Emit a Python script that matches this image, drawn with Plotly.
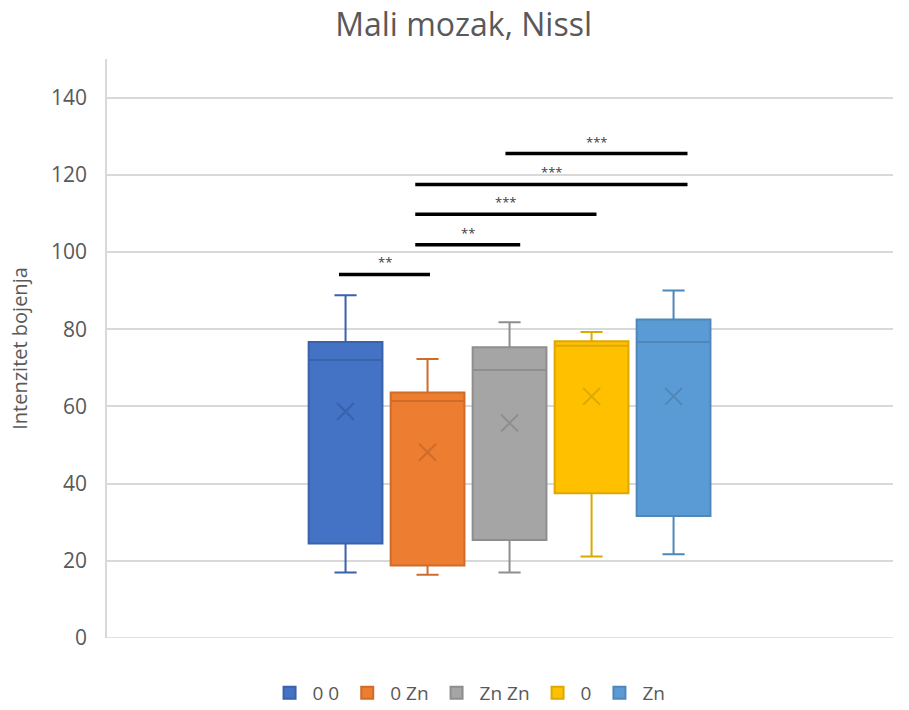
import plotly.graph_objects as go

groups = ["0 0", "0 Zn", "Zn Zn", "0", "Zn"]
positions = [1, 2, 3, 4, 5]
q1 = [24.5, 18.8, 25.4, 37.5, 31.6]
median = [72.0, 61.4, 69.4, 75.7, 76.7]
q3 = [76.7, 63.6, 75.3, 76.9, 82.5]
lower = [17.0, 16.4, 17.0, 21.1, 21.7]
upper = [88.8, 72.3, 81.8, 79.3, 90.0]
means = [58.7, 48.1, 55.7, 62.6, 62.6]

fills = ["#4472C4", "#ED7D31", "#A5A5A5", "#FFC000", "#5B9BD5"]
lines = ["#3A62AB", "#CF6C29", "#8E8E8E", "#DDA800", "#4F87BA"]

# significance brackets
sig_x0 = [2.95, 1.85, 1.85, 1.85, 0.92]
sig_x1 = [5.17, 5.17, 4.06, 3.13, 2.03]
sig_y = [125.5, 117.5, 109.8, 101.9, 94.2]
sig_labels = ["***", "***", "***", "**", "**"]

fig = go.Figure()
for i, g in enumerate(groups):
    fig.add_trace(go.Box(
        x=[positions[i]], q1=[q1[i]], median=[median[i]], q3=[q3[i]],
        lowerfence=[lower[i]], upperfence=[upper[i]],
        name=g, fillcolor=fills[i], line=dict(color=lines[i], width=2),
        width=0.9, whiskerwidth=0.3, boxpoints=False, showlegend=True,
        hoverinfo="skip",
    ))
    fig.add_trace(go.Scatter(
        x=[positions[i]], y=[means[i]], mode="markers",
        marker=dict(symbol="x-thin-open", size=17, color=lines[i],
                    line=dict(color=lines[i], width=2)),
        showlegend=False, hoverinfo="skip",
    ))

for x0, x1, y, lab in zip(sig_x0, sig_x1, sig_y, sig_labels):
    fig.add_shape(type="line", x0=x0, x1=x1, y0=y, y1=y, xref="x", yref="y",
                  line=dict(color="black", width=3.5))
    fig.add_annotation(x=(x0 + x1) / 2, y=y, text=lab, showarrow=False,
                       yshift=12, font=dict(size=13, color="#404040", family="Open Sans"))

fig.update_layout(
    width=909, height=710,
    margin=dict(l=107, r=16, t=59, b=72, autoexpand=False),
    paper_bgcolor="white", plot_bgcolor="white",
    title=dict(text="Mali mozak, Nissl", x=0.51, xanchor="center", y=0.965, yanchor="middle",
               font=dict(family="Open Sans", size=32, color="#595959")),
    font=dict(family="Open Sans", color="#595959"),
    boxmode="overlay",
    xaxis=dict(range=[-1.909, 7.676], showticklabels=False, showgrid=False, zeroline=False,
               showline=False, ticks="", automargin=False),
    yaxis=dict(range=[0, 150], tickvals=[0, 20, 40, 60, 80, 100, 120, 140],
               showgrid=True, gridcolor="#D9D9D9", gridwidth=1.5, zeroline=False,
               showline=True, linecolor="#D9D9D9", linewidth=1.5, automargin=False,
               tickfont=dict(size=21, color="#595959"), ticks="", ticklabelstandoff=14,
               title=dict(text="Intenzitet bojenja", font=dict(size=20, color="#595959"), standoff=18)),
    legend=dict(orientation="h", x=0.46, xanchor="center", yref="container",
                y=0.024, yanchor="middle",
                font=dict(size=19, color="#595959"), itemwidth=36, tracegroupgap=0),
    showlegend=True,
)
fig.add_shape(type="line", xref="paper", yref="y", x0=0, x1=1, y0=0, y1=0,
              line=dict(color="#D9D9D9", width=1.5), layer="below")

fig.write_html("out.html", config={"displayModeBar": False},
               post_script="document.body.style.margin='0';document.body.style.overflow='hidden';")
